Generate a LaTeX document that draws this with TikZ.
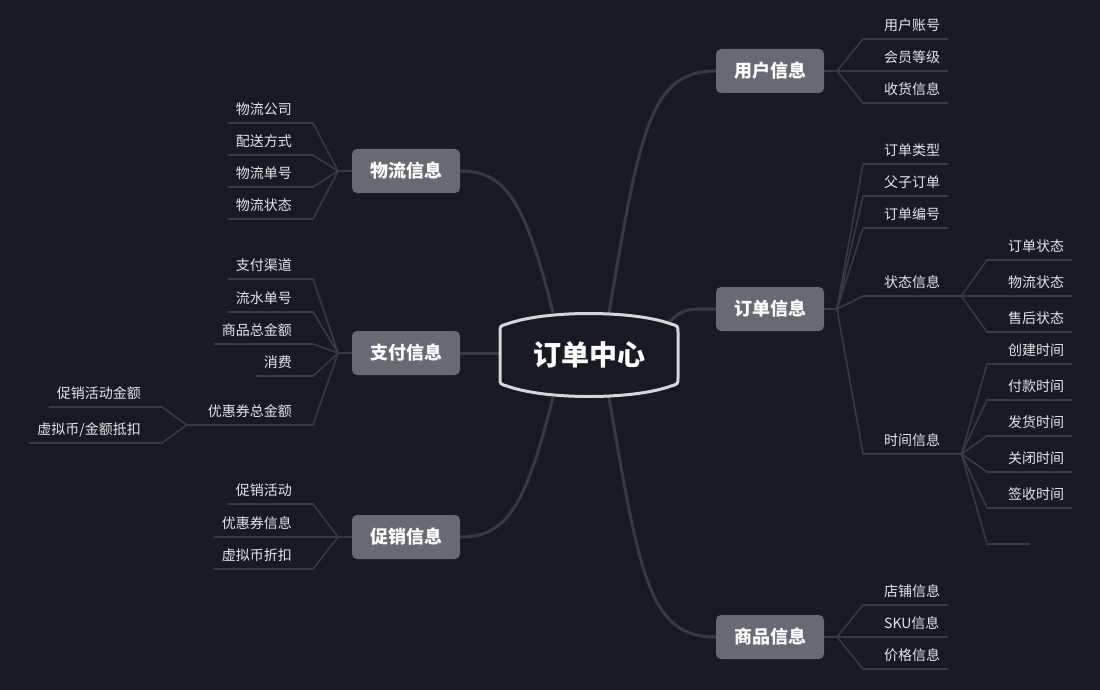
\documentclass[tikz,border=0pt]{standalone}
\usepackage{fontspec}
\setmainfont{Noto Sans CJK SC}
\usepackage{xcolor}
\usetikzlibrary{positioning, calc}
\definecolor{mapbg}{RGB}{23, 25, 35}
\definecolor{branchgray}{RGB}{55, 57, 69}
\definecolor{topicgray}{RGB}{103, 105, 115}
\definecolor{leaftext}{RGB}{230, 230, 230}
\definecolor{hubwhite}{RGB}{214, 214, 214}

\begin{document}
\begin{tikzpicture}[
    x=1pt, y=-1pt,
    hub/.style={inner sep=0pt, minimum width=178pt, minimum height=84pt, text=white, font=\fontsize{28}{30}\selectfont\bfseries},
    hubedge/.style={draw=hubwhite, line width=3pt},
    topic/.style={rectangle, rounded corners=5pt, fill=topicgray, text=white, inner sep=0pt, minimum width=108pt, minimum height=44pt, font=\fontsize{18}{20}\selectfont\bfseries},
    leaf/.style={inner xsep=0pt, inner ysep=6pt, text height=11pt, text depth=2pt, text=leaftext, font=\fontsize{14}{16}\selectfont},
    leafR/.style={leaf, anchor=south west, execute at begin node=\hspace*{21pt}, execute at end node=\hspace*{8pt}},
    leafL/.style={leaf, anchor=south east, execute at begin node=\hspace*{8pt}, execute at end node=\hspace*{21pt}},
    midR/.style={leaf, anchor=south west, execute at begin node=\hspace*{21pt}, execute at end node=\hspace*{21pt}},
    midL/.style={leaf, anchor=south east, execute at begin node=\hspace*{21pt}, execute at end node=\hspace*{21pt}},
    branch/.style={draw=branchgray, line width=3pt},
    twig/.style={draw=branchgray, line width=1.6pt, line join=round}
]

% Background
\fill[mapbg] (0,0) rectangle (1100,690);

% Centre
\node[hub] (hub) at (589,355) {订单中心};

% Main topics
\node[topic] (user) at (770,71) {用户信息};
\node[topic] (order) at (770,309) {订单信息};
\node[topic] (goods) at (770,637) {商品信息};
\node[topic] (logi) at (406,171) {物流信息};
\node[topic] (pay) at (406,353) {支付信息};
\node[topic] (promo) at (406,537) {促销信息};

% Branches from the centre
\draw[branch] ([xshift=20pt]hub.north) .. controls (640,130) and (650,71) .. (user.west);
\draw[branch] ([shift={(79,-32)}]hub.center) .. controls (683,309) .. (order.west);
\draw[branch] ([xshift=20pt]hub.south) .. controls (640,580) and (650,637) .. (goods.west);
\draw[branch] ([xshift=-36pt]hub.north) .. controls (525,200) and (505,171) .. (logi.east);
\draw[branch] (hub.west |- pay.east) -- (pay.east);
\draw[branch] ([xshift=-36pt]hub.south) .. controls (525,510) and (505,537) .. (promo.east);

% Centre outline
\begin{scope}[shift={(hub.center)}]
\draw[hubedge] (-89,-23) .. controls (-89,-29) .. (-82,-31) .. controls (-44,-45) and (44,-45) .. (82,-31)
    .. controls (89,-29) .. (89,-23) -- (89,23) .. controls (89,29) .. (82,31)
    .. controls (44,45) and (-44,45) .. (-82,31) .. controls (-89,29) .. (-89,23) -- cycle;
\end{scope}

% 用户信息
\coordinate (userfork) at (837,71);
\node[leafR] (u1) at (863,39) {用户账号};
\node[leafR] (u2) at (863,71) {会员等级};
\node[leafR] (u3) at (863,103) {收货信息};
\draw[twig] (user.east) -- (userfork);
\draw[twig] (userfork) -- (u1.south west) -- (u1.south east);
\draw[twig] (userfork) -- (u2.south west) -- (u2.south east);
\draw[twig] (userfork) -- (u3.south west) -- (u3.south east);

% 订单信息
\coordinate (orderfork) at (837,309);
\node[leafR] (o1) at (863,164) {订单类型};
\node[leafR] (o2) at (863,196) {父子订单};
\node[leafR] (o3) at (863,228) {订单编号};
\node[midR] (state) at (863,296) {状态信息};
\node[midR] (time) at (863,454) {时间信息};
\draw[twig] (order.east) -- (orderfork);
\draw[twig] (orderfork) -- (o1.south west) -- (o1.south east);
\draw[twig] (orderfork) -- (o2.south west) -- (o2.south east);
\draw[twig] (orderfork) -- (o3.south west) -- (o3.south east);
\draw[twig] (orderfork) -- (state.south west) -- (state.south east);
\draw[twig] (orderfork) -- (time.south west) -- (time.south east);

% 状态信息
\node[leafR] (s1) at (987,260) {订单状态};
\node[leafR] (s2) at (987,296) {物流状态};
\node[leafR] (s3) at (987,332) {售后状态};
\draw[twig] (state.south east) -- (s1.south west) -- (s1.south east);
\draw[twig] (state.south east) -- (s2.south west) -- (s2.south east);
\draw[twig] (state.south east) -- (s3.south west) -- (s3.south east);

% 时间信息
\node[leafR] (t1) at (987,364) {创建时间};
\node[leafR] (t2) at (987,400) {付款时间};
\node[leafR] (t3) at (987,436) {发货时间};
\node[leafR] (t4) at (987,472) {关闭时间};
\node[leafR] (t5) at (987,508) {签收时间};
\node[leafR, minimum width=43pt] (t6) at (987,544) {};
\draw[twig] (time.south east) -- (t1.south west) -- (t1.south east);
\draw[twig] (time.south east) -- (t2.south west) -- (t2.south east);
\draw[twig] (time.south east) -- (t3.south west) -- (t3.south east);
\draw[twig] (time.south east) -- (t4.south west) -- (t4.south east);
\draw[twig] (time.south east) -- (t5.south west) -- (t5.south east);
\draw[twig] (time.south east) -- (t6.south west) -- (t6.south east);

% 商品信息
\coordinate (goodsfork) at (837,637);
\node[leafR] (g1) at (863,605) {店铺信息};
\node[leafR] (g2) at (863,637) {SKU信息};
\node[leafR] (g3) at (863,669) {价格信息};
\draw[twig] (goods.east) -- (goodsfork);
\draw[twig] (goodsfork) -- (g1.south west) -- (g1.south east);
\draw[twig] (goodsfork) -- (g2.south west) -- (g2.south east);
\draw[twig] (goodsfork) -- (g3.south west) -- (g3.south east);

% 物流信息
\coordinate (logifork) at (338,171);
\node[leafL] (l1) at (313,123) {物流公司};
\node[leafL] (l2) at (313,155) {配送方式};
\node[leafL] (l3) at (313,187) {物流单号};
\node[leafL] (l4) at (313,219) {物流状态};
\draw[twig] (logi.west) -- (logifork);
\draw[twig] (logifork) -- (l1.south east) -- (l1.south west);
\draw[twig] (logifork) -- (l2.south east) -- (l2.south west);
\draw[twig] (logifork) -- (l3.south east) -- (l3.south west);
\draw[twig] (logifork) -- (l4.south east) -- (l4.south west);

% 支付信息
\coordinate (payfork) at (338,353);
\node[leafL] (p1) at (313,279) {支付渠道};
\node[leafL] (p2) at (313,312) {流水单号};
\node[leafL] (p3) at (313,344) {商品总金额};
\node[leafL] (p4) at (313,376) {消费};
\node[midL] (coupon) at (313,425) {优惠券总金额};
\draw[twig] (pay.west) -- (payfork);
\draw[twig] (payfork) -- (p1.south east) -- (p1.south west);
\draw[twig] (payfork) -- (p2.south east) -- (p2.south west);
\draw[twig] (payfork) -- (p3.south east) -- (p3.south west);
\draw[twig] (payfork) -- (p4.south east) -- (p4.south west);
\draw[twig] (payfork) -- (coupon.south east) -- (coupon.south west);

% 优惠券总金额
\node[leafL] (c1) at (162,407) {促销活动金额};
\node[leafL] (c2) at (162,443) {虚拟币/金额抵扣};
\draw[twig] (coupon.south west) -- (c1.south east) -- (c1.south west);
\draw[twig] (coupon.south west) -- (c2.south east) -- (c2.south west);

% 促销信息
\coordinate (promofork) at (338,537);
\node[leafL] (r1) at (313,504) {促销活动};
\node[leafL] (r2) at (313,537) {优惠券信息};
\node[leafL] (r3) at (313,569) {虚拟币折扣};
\draw[twig] (promo.west) -- (promofork);
\draw[twig] (promofork) -- (r1.south east) -- (r1.south west);
\draw[twig] (promofork) -- (r2.south east) -- (r2.south west);
\draw[twig] (promofork) -- (r3.south east) -- (r3.south west);

\end{tikzpicture}
\end{document}
